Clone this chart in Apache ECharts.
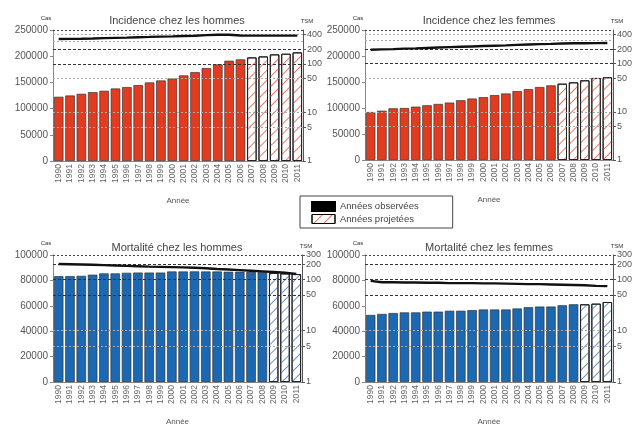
<!DOCTYPE html>
<html>
<head>
<meta charset="utf-8">
<script src="https://cdn.jsdelivr.net/npm/echarts@6/dist/echarts.min.js"></script>
<style>
  html, body { margin: 0; padding: 0; background: #fff; }
  #chart { width: 635px; height: 427px; }
</style>
</head>
<body>
<div id="chart"></div>
<script>
  // années
  const years = ['1990', '1991', '1992', '1993', '1994', '1995', '1996', '1997', '1998', '1999', '2000',
    '2001', '2002', '2003', '2004', '2005', '2006', '2007', '2008', '2009', '2010', '2011']

  // incidence (cas) et TSM
  const incHommesCas = [122500, 125000, 128200, 131400, 134000, 138400, 141000, 144800, 149900, 153700, 157500,
    163300, 169700, 177300, 184300, 191300, 193900, 197700, 199600, 203500, 204700, 207300]
  const incHommesTsm = [326, 328, 330, 334, 340, 344, 348, 355, 360, 366, 370, 375, 380, 392, 400, 400, 385, 382, 382, 382, 382, 382]
  const incFemmesCas = [92200, 94800, 99400, 100000, 102600, 105200, 107800, 110400, 114900, 118200, 120800,
    124700, 127900, 132500, 136400, 140300, 143500, 146800, 149400, 153300, 157800, 159100]
  const incFemmesTsm = [195, 198, 200, 205, 208, 212, 216, 220, 224, 228, 232, 236, 240, 245, 250, 255, 258, 262, 265, 266, 267, 268]

  // mortalité (cas) et TSM
  const mortHommesCas = [83300, 83400, 83600, 84500, 85500, 85500, 86000, 86200, 86200, 86200, 87000,
    87000, 87100, 87000, 87000, 86800, 86800, 86600, 86400, 86000, 85500, 85000]
  const mortHommesTsm = [200, 198, 196, 193, 190, 187, 184, 181, 178, 176, 174, 172, 169, 165, 160, 156, 152, 148, 144, 140, 135, 128]
  const mortFemmesCas = [52800, 53600, 54300, 54800, 54800, 55400, 55400, 56100, 56100, 56600, 57100,
    57100, 57100, 57900, 58900, 59400, 59400, 60400, 61200, 61200, 61700, 63000]
  const mortFemmesTsm = [94, 88, 88, 87, 87, 86, 86, 85, 85, 85, 84, 84, 83, 82, 81, 81, 80, 79, 78, 77, 75, 74]

  // premières années projetées
  const projIncidence = '2007'
  const projMortalite = '2009'

  // graduations TSM (échelle log)
  const tsmTicksInc = [1, 5, 10, 50, 100, 200, 400]
  const tsmTicksMort = [1, 5, 10, 50, 100, 200, 300]
  const tsmGridInc = [5, 10, 50, 100, 200, 300, 400, 500]
  const tsmGridMort = [5, 10, 50, 100, 200, 300]

  const RED = '#e33b1f'
  const BLUE = '#1c69b3'
  const FONT = '"Liberation Sans", Arial, sans-serif'

  const panels = [
    { title: 'Incidence chez les hommes', cas: incHommesCas, tsm: incHommesTsm, proj: projIncidence,
      color: RED, hatch: '#ec7b68', casMax: 250000, casStep: 50000, tsmMax: 500, ticks: tsmTicksInc, lines: tsmGridInc,
      grid: { left: 53, top: 30, width: 250, height: 131 }, tx: 177, ty: 21 },
    { title: 'Incidence chez les femmes', cas: incFemmesCas, tsm: incFemmesTsm, proj: projIncidence,
      color: RED, hatch: '#ec7b68', casMax: 250000, casStep: 50000, tsmMax: 500, ticks: tsmTicksInc, lines: tsmGridInc,
      grid: { left: 365, top: 30, width: 252, height: 130 }, tx: 489, ty: 21 },
    { title: 'Mortalité chez les hommes', cas: mortHommesCas, tsm: mortHommesTsm, proj: projMortalite,
      color: BLUE, hatch: '#6f95c8', casMax: 100000, casStep: 20000, tsmMax: 300, ticks: tsmTicksMort, lines: tsmGridMort,
      grid: { left: 53, top: 255, width: 249, height: 131 }, tx: 177, ty: 248 },
    { title: 'Mortalité chez les femmes', cas: mortFemmesCas, tsm: mortFemmesTsm, proj: projMortalite,
      color: BLUE, hatch: '#6f95c8', casMax: 100000, casStep: 20000, tsmMax: 300, ticks: tsmTicksMort, lines: tsmGridMort,
      grid: { left: 365, top: 255, width: 248, height: 131 }, tx: 489, ty: 248 }
  ]

  function gridLineStyle(v, max) {
    if (v === max) return { color: '#444', type: [2, 2], width: 1 }
    if (v === 100 || v === 200) return { color: '#333', type: [3, 2], width: 1.2 }
    if (v === 50 && max === 300) return { color: '#333', type: [3, 2], width: 1.2 }
    return { color: '#aaa', type: [2, 2], width: 1 }
  }

  const grid = []
  const xAxis = []
  const yAxis = []
  const series = []
  const graphic = []

  panels.forEach(function (p, i) {
    grid.push(p.grid)
    graphic.push({
      type: 'text', x: p.tx, y: p.ty,
      style: { text: p.title, align: 'center', verticalAlign: 'middle', fill: '#444', font: '11px ' + FONT }
    })
    xAxis.push({
      gridIndex: i, type: 'category', data: years,
      axisLine: { lineStyle: { color: '#888' } },
      axisTick: { show: false },
      axisLabel: { rotate: 90, interval: 0, fontSize: 8.5, color: '#666', margin: 3 },
      name: 'Année', nameLocation: 'middle', nameGap: 36,
      nameTextStyle: { fontSize: 8, color: '#555' }
    })
    yAxis.push({
      gridIndex: i, type: 'value', position: 'left', min: 0, max: p.casMax, interval: p.casStep,
      splitLine: { show: false },
      axisLine: { show: true, lineStyle: { color: '#888' } },
      axisTick: { show: true, length: 3, lineStyle: { color: '#888' } },
      axisLabel: { fontSize: 10, color: '#555', margin: 5, formatter: function (v) { return String(v) } },
      name: 'Cas', nameLocation: 'end', nameGap: 9,
      nameTextStyle: { fontSize: 6, color: '#333', padding: [0, 14, 0, 0] }
    })
    yAxis.push({
      gridIndex: i, type: 'log', logBase: 10, position: 'right', min: 1, max: p.tsmMax,
      splitLine: { show: false },
      minorTick: { show: false },
      axisLine: { show: true, lineStyle: { color: '#555' } },
      axisTick: { show: true, length: 3, customValues: p.ticks, lineStyle: { color: '#555' } },
      axisLabel: { customValues: p.ticks, fontSize: 9, color: '#555', margin: 4 },
      name: 'TSM', nameLocation: 'end', nameGap: 6,
      nameTextStyle: { fontSize: 6, color: '#333', padding: [0, 0, 0, 8] }
    })
    series.push({
      type: 'bar', name: 'Années observées', xAxisIndex: i, yAxisIndex: 2 * i,
      data: p.cas.map(function (v, k) { return years[k] < p.proj ? v : '-' }),
      barCategoryGap: '16%', barGap: '-100%',
      itemStyle: { color: p.color, borderColor: '#333', borderWidth: 0.7 }
    })
    series.push({
      type: 'bar', name: 'Années projetées', xAxisIndex: i, yAxisIndex: 2 * i,
      data: p.cas.map(function (v, k) { return years[k] >= p.proj ? v : '-' }),
      barCategoryGap: '16%', barGap: '-100%',
      itemStyle: {
        color: '#fff', borderColor: '#222', borderWidth: 1,
        decal: { symbol: 'rect', symbolSize: 1, dashArrayX: [1, 0], dashArrayY: [1, 6], rotation: -Math.PI / 4, color: p.hatch }
      }
    })
    series.push({
      type: 'line', name: 'TSM', xAxisIndex: i, yAxisIndex: 2 * i + 1,
      data: p.tsm, showSymbol: false, z: 5,
      lineStyle: { color: '#111', width: 2.4 },
      markLine: {
        silent: true, symbol: 'none', label: { show: false },
        data: p.lines.map(function (v) { return { yAxis: v, lineStyle: gridLineStyle(v, p.tsmMax) } })
      }
    })
  })

  const chart = echarts.init(document.getElementById('chart'), null, { renderer: 'canvas' })
  chart.setOption({
    animation: false,
    backgroundColor: '#fff',
    textStyle: { fontFamily: FONT },
    grid: grid,
    xAxis: xAxis,
    yAxis: yAxis,
    graphic: graphic,
    legend: {
      left: 300, top: 196, orient: 'vertical',
      icon: 'rect', itemWidth: 23, itemHeight: 9, itemGap: 2,
      borderColor: '#444', borderWidth: 1, padding: [5, 34, 4, 11],
      textStyle: { fontSize: 9.5, color: '#444' },
      data: [
        { name: 'Années observées', itemStyle: { color: '#000', borderColor: '#000' } },
        { name: 'Années projetées', itemStyle: { color: '#fff', borderColor: '#000', borderWidth: 1 } }
      ]
    },
    series: series
  })
</script>
</body>
</html>
